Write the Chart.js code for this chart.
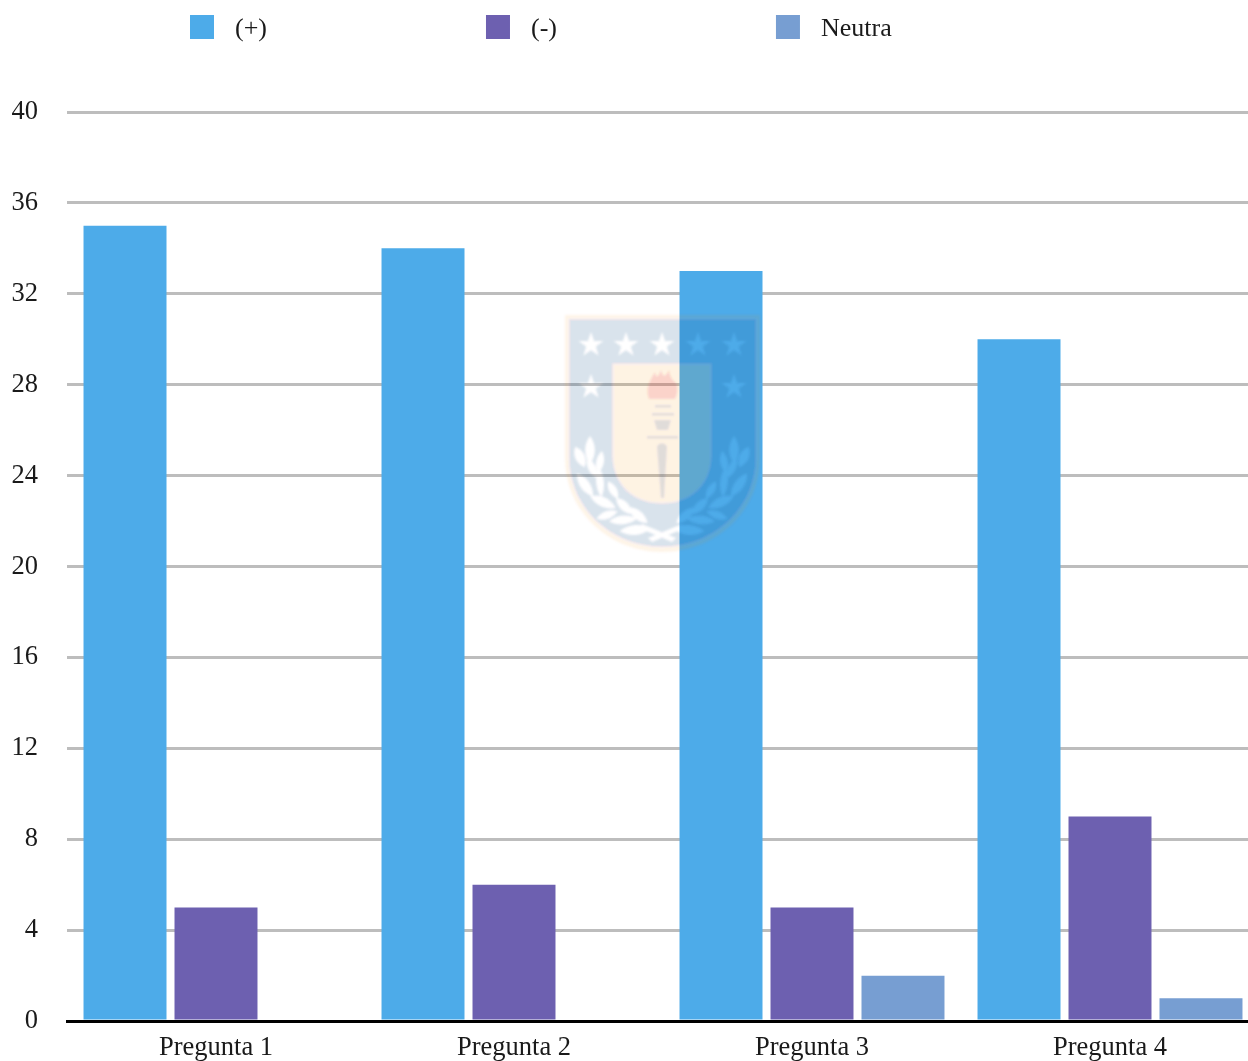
<!DOCTYPE html>
<html>
<head>
<meta charset="utf-8">
<title>Preguntas</title>
<script src="https://cdn.jsdelivr.net/npm/chart.js@4/dist/chart.umd.min.js"></script>
<style>
    html, body { margin: 0; padding: 0; background: #fff; }
    #wrap { position: relative; width: 1248px; height: 1061px; overflow: hidden; }
    #grafico { position: absolute; left: 0; top: 0; }
    #escudo { position: absolute; left: 0; top: 0; pointer-events: none; }
</style>
</head>
<body>
<div id="wrap">
    <canvas id="grafico" width="1259" height="1066"></canvas>
    <!-- shield laid over the chart, semi transparent -->
    <svg id="escudo" width="1248" height="1061" viewBox="0 0 1248 1061">
        <defs>
            <filter id="suave" x="-5%" y="-5%" width="110%" height="110%"><feGaussianBlur stdDeviation="0.9"/></filter>
            <path id="estrella" d="M0,-13 L3.1,-4 L12.4,-4 L4.9,1.6 L7.6,10.5 L0,5.2 L-7.6,10.5 L-4.9,1.6 L-12.4,-4 L-3.1,-4 Z"/>
            <path id="hoja" d="M0,-14 C6.5,-6 6.5,6 0,14 C-6.5,6 -6.5,-6 0,-14 Z"/>
            <g id="laurel">
                <use href="#hoja" transform="translate(590,450)"/>
                <use href="#hoja" transform="translate(580,457) rotate(-25) scale(1,.8)"/>
                <use href="#hoja" transform="translate(600,462) rotate(10) scale(.8,.8)"/>
                <use href="#hoja" transform="translate(592,468) rotate(-25) scale(.8,.8)"/>
                <use href="#hoja" transform="translate(600,482) rotate(-5) scale(.8,1.1)"/>
                <use href="#hoja" transform="translate(585,485) rotate(-35)"/>
                <use href="#hoja" transform="translate(613,490) rotate(-30) scale(.8,.7)"/>
                <use href="#hoja" transform="translate(603,502) rotate(-65) scale(1,1)"/>
                <use href="#hoja" transform="translate(624,506) rotate(-45) scale(.9,.8)"/>
                <use href="#hoja" transform="translate(607,515) rotate(70) scale(.8,.8)"/>
                <use href="#hoja" transform="translate(623,520) rotate(85) scale(.9,1)"/>
                <use href="#hoja" transform="translate(638,515) rotate(-50) scale(.9,.9)"/>
                <use href="#hoja" transform="translate(635,530) rotate(85) scale(1,1.1)"/>
                <path d="M648,538 L682,524 L685,528 L652,542 Z"/>
            </g>
            <mask id="huecos" maskUnits="userSpaceOnUse" x="560" y="310" width="205" height="250">
                <rect x="560" y="310" width="205" height="250" fill="#fff"/>
                <g fill="#000">
                    <path d="M613,364 H711 V455 C711,485 690,503 662,503 C634,503 613,485 613,455 Z"/>
                    <use href="#estrella" x="591" y="345"/>
                    <use href="#estrella" x="626" y="345"/>
                    <use href="#estrella" x="662" y="345"/>
                    <use href="#estrella" x="698" y="345"/>
                    <use href="#estrella" x="734" y="345"/>
                    <use href="#estrella" x="591" y="387"/>
                    <use href="#estrella" x="734" y="387"/>
                    <use href="#laurel"/>
                    <use href="#laurel" transform="translate(1324,0) scale(-1,1)"/>
                </g>
            </mask>
        </defs>
        <g filter="url(#suave)">
            <path fill="#F98E16" fill-opacity=".09" fill-rule="evenodd"
                d="M565,315 H760 V458 C760,512 715,552 662,552 C610,552 565,512 565,458 Z
                   M569,319 V458 C569,509 612,547 662,547 C713,547 756,509 756,458 V319 Z"/>
            <path fill="#164480" fill-opacity=".15" mask="url(#huecos)"
                d="M569,319 H756 V458 C756,509 713,547 662,547 C612,547 569,509 569,458 Z"/>
            <path fill="#F98E16" fill-opacity=".11"
                d="M613,364 H711 V455 C711,485 690,503 662,503 C634,503 613,485 613,455 Z"/>
            <path fill="#E8223C" fill-opacity=".15"
                d="M649,399 C645,388 650,380 655,372 C656,378 658,378 661,370 C663,377 665,378 669,370 C670,378 673,380 677,384 C678,391 677,395 675,399 Z"/>
            <g fill="#164480" fill-opacity=".13">
                <rect x="655" y="405" width="16" height="2.5"/>
                <rect x="652" y="413" width="22" height="2.5"/>
                <path d="M654,420 H671 L668,430 H657 Z"/>
                <rect x="647" y="436" width="31" height="2.5"/>
                <path d="M657,447 C658,442 666,442 667,447 L664,498 H661 Z"/>
            </g>
        </g>
    </svg>
</div>

<script>
const categorias = ['Pregunta 1', 'Pregunta 2', 'Pregunta 3', 'Pregunta 4'];
const positivas = [35, 34, 33, 30];
const negativas = [5, 6, 5, 9];
const neutras = [0, 0, 2, 1];

const fuente = '"Liberation Serif", "Times New Roman", serif';
const colorTexto = '#1a1a1a';

// legend row: square, text, fixed gap to the next one
const leyenda = {
    id: 'leyenda',
    afterDraw(chart) {
        const ctx = chart.ctx;
        let x = 190;
        ctx.save();
        ctx.font = '26px ' + fuente;
        ctx.textBaseline = 'alphabetic';
        chart.data.datasets.forEach(function(ds) {
            ctx.fillStyle = ds.backgroundColor;
            ctx.fillRect(x, 15, 24, 24);
            ctx.fillStyle = colorTexto;
            ctx.fillText(ds.label, x + 45, 36);
            x += 46 + ctx.measureText(ds.label).width + 218;
        });
        ctx.restore();
    }
};

new Chart(document.getElementById('grafico'), {
    type: 'bar',
    data: {
        labels: categorias,
        datasets: [
            { label: '(+)', data: positivas, backgroundColor: '#4DABE9' },
            { label: '(-)', data: negativas, backgroundColor: '#6D60B0' },
            { label: 'Neutra', data: neutras, backgroundColor: '#779ED2' }
        ]
    },
    options: {
        responsive: false,
        animation: false,
        categoryPercentage: 0.916,
        barPercentage: 0.912,
        layout: { padding: { top: 112, left: 0, right: 0, bottom: 0 } },
        plugins: {
            legend: { display: false },
            tooltip: { enabled: false }
        },
        scales: {
            x: {
                afterFit: function(scale) { scale.height = 44; },
                grid: { display: false },
                border: { display: true, color: '#000', width: 3, z: 1 },
                ticks: {
                    color: colorTexto,
                    padding: 3,
                    maxRotation: 0,
                    font: { family: fuente, size: 26.5 }
                }
            },
            y: {
                min: 0,
                max: 40,
                afterFit: function(scale) { scale.width = 67; },
                grid: { color: '#bdbdbd', lineWidth: 3, drawTicks: false },
                border: { display: false },
                ticks: {
                    stepSize: 4,
                    color: colorTexto,
                    padding: 29,
                    font: { family: fuente, size: 26.5 }
                }
            }
        }
    },
    plugins: [leyenda]
});
</script>
</body>
</html>
